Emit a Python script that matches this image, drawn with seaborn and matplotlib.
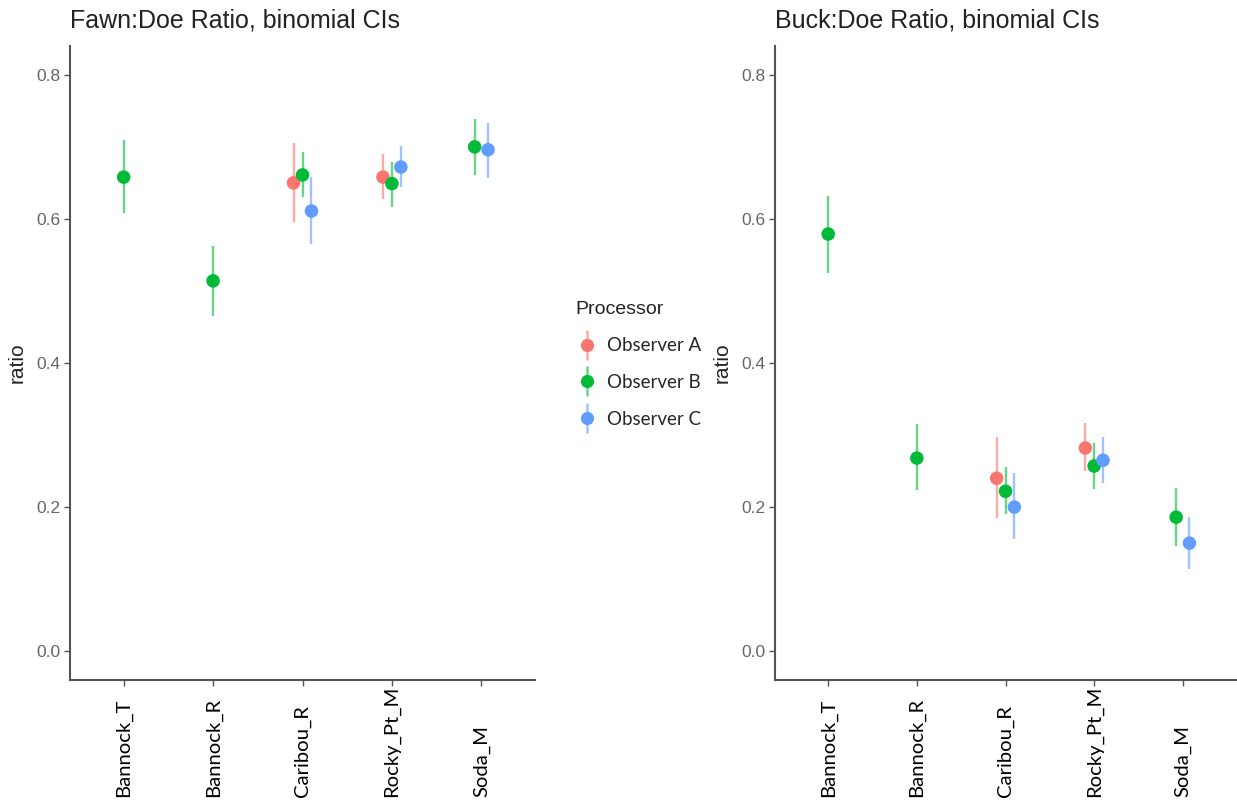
import numpy as np
import pandas as pd
import matplotlib
matplotlib.use("Agg")
import matplotlib.pyplot as plt
from matplotlib.lines import Line2D
from matplotlib.legend_handler import HandlerTuple
import seaborn as sns

sns.set_theme(style="white")
plt.rcParams['font.family'] = ['Liberation Sans', 'DejaVu Sans']

nan = np.nan
sites = ["Bannock_T", "Bannock_R", "Caribou_R", "Rocky_Pt_M", "Soda_M"]
processors = ["Observer A", "Observer B", "Observer C"]
colors = ["#F8766D", "#00BA38", "#619CFF"]

# Fawn:Doe ratio (left panel)
fawn_ratio_A = [nan, nan, 0.650, 0.658, nan]
fawn_lo_A = [nan, nan, 0.596, 0.628, nan]
fawn_hi_A = [nan, nan, 0.706, 0.690, nan]
fawn_ratio_B = [0.658, 0.514, 0.661, 0.649, 0.700]
fawn_lo_B = [0.608, 0.465, 0.631, 0.617, 0.661]
fawn_hi_B = [0.710, 0.562, 0.693, 0.679, 0.739]
fawn_ratio_C = [nan, nan, 0.611, 0.672, 0.696]
fawn_lo_C = [nan, nan, 0.565, 0.644, 0.657]
fawn_hi_C = [nan, nan, 0.658, 0.701, 0.733]

# Buck:Doe ratio (right panel)
buck_ratio_A = [nan, nan, 0.240, 0.282, nan]
buck_lo_A = [nan, nan, 0.185, 0.250, nan]
buck_hi_A = [nan, nan, 0.297, 0.317, nan]
buck_ratio_B = [0.579, 0.268, 0.222, 0.257, 0.186]
buck_lo_B = [0.525, 0.224, 0.190, 0.225, 0.146]
buck_hi_B = [0.632, 0.315, 0.256, 0.289, 0.226]
buck_ratio_C = [nan, nan, 0.200, 0.265, 0.150]
buck_lo_C = [nan, nan, 0.156, 0.233, 0.114]
buck_hi_C = [nan, nan, 0.247, 0.297, 0.186]

y_ticks = [0.0, 0.2, 0.4, 0.6, 0.8]


def build(ratios, los, his):
    rows = []
    for p, r, lo, hi in zip(processors, ratios, los, his):
        for s, rv, lv, hv in zip(sites, r, lo, hi):
            if not np.isnan(rv):
                rows.append(dict(site=s, Processor=p, ratio=rv, lo=lv, hi=hv))
    df = pd.DataFrame(rows)
    # ggplot-style dodge (width 0.3), centred on the groups present
    width = 0.3
    xpos = []
    for _, row in df.iterrows():
        present = [p for p in processors if ((df.site == row.site) & (df.Processor == p)).any()]
        n = len(present)
        i = present.index(row.Processor)
        xpos.append(sites.index(row.site) + (i - (n - 1) / 2) * width / n)
    df["x"] = xpos
    return df


fawn = build([fawn_ratio_A, fawn_ratio_B, fawn_ratio_C],
             [fawn_lo_A, fawn_lo_B, fawn_lo_C],
             [fawn_hi_A, fawn_hi_B, fawn_hi_C])
buck = build([buck_ratio_A, buck_ratio_B, buck_ratio_C],
             [buck_lo_A, buck_lo_B, buck_lo_C],
             [buck_hi_A, buck_hi_B, buck_hi_C])

W, H = 1237, 809
fig = plt.figure(figsize=(W / 100, H / 100), dpi=100)
ax1 = fig.add_axes([70 / W, 1 - 680 / H, 465 / W, 634 / H])
ax2 = fig.add_axes([775 / W, 1 - 680 / H, 461 / W, 634 / H])

pal = dict(zip(processors, colors))
tick_col = "#666666"
sans = ['Liberation Sans', 'DejaVu Sans']
label_font = ['Lato', 'DejaVu Sans']

for ax, df, title in [(ax1, fawn, "Fawn:Doe Ratio, binomial CIs"),
                      (ax2, buck, "Buck:Doe Ratio, binomial CIs")]:
    ax.vlines(df["x"], df["lo"], df["hi"], colors=[pal[p] for p in df["Processor"]],
              linewidth=1.7, alpha=0.6, zorder=2)
    sns.scatterplot(data=df, x="x", y="ratio", hue="Processor", hue_order=processors,
                    palette=pal, s=95, linewidth=0, legend=False, ax=ax, zorder=3)
    ax.set_xlim(-0.6, 4.6)
    ax.set_ylim(-0.04, 0.84)
    ax.set_yticks(y_ticks)
    ax.set_yticklabels([f"{v:.1f}" for v in y_ticks], color=tick_col, fontsize=12.5,
                       family=sans)
    ax.set_xticks(range(len(sites)))
    ax.set_xticklabels(sites, rotation=90, fontsize=14.6, family=label_font, color="black")
    for lab in ax.get_xticklabels():
        lab.set_va("bottom")
    ax.tick_params(axis="x", pad=80, length=4, width=1, color="#555555", bottom=True)
    ax.tick_params(axis="y", pad=3, length=4, width=1, color="#555555", left=True)
    ax.set_xlabel("")
    ax.set_ylabel("ratio", fontsize=15, color="#222222", labelpad=7, family=sans)
    for sp in ["top", "right"]:
        ax.spines[sp].set_visible(False)
    for sp in ["left", "bottom"]:
        ax.spines[sp].set_color("#555555")
        ax.spines[sp].set_linewidth(1.5)
    ax.set_title(title, loc="left", fontsize=18, color="#222222", pad=13, family=sans)

handles = []
for c in colors:
    vline = Line2D([], [], marker="|", markersize=22, markeredgewidth=1.8, color=c,
                   alpha=0.6, linestyle="none")
    pt = Line2D([], [], marker="o", markersize=9.5, color=c, markeredgewidth=0,
                linestyle="none")
    handles.append((vline, pt))

leg = fig.legend(handles, processors, loc="upper left",
                 bbox_to_anchor=(568 / W, 1 - 293 / H), frameon=False,
                 title="Processor", title_fontsize=14, alignment="left",
                 prop={"family": label_font, "size": 13.5},
                 handler_map={tuple: HandlerTuple(ndivide=1)},
                 handlelength=1.2, handletextpad=0.5, labelspacing=1.05,
                 borderaxespad=0)
leg.get_title().set_color("#222222")
leg.get_title().set_family(sans)

fig.savefig("out.png", dpi=100)
